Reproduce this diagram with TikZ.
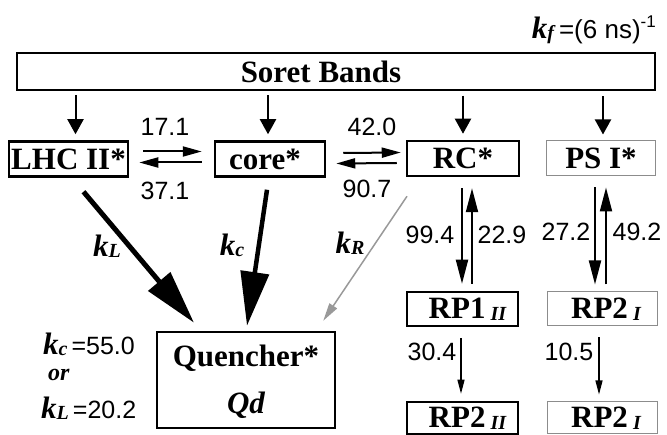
\documentclass[tikz,border=0pt]{standalone}
\usepackage{fontspec}
\setmainfont{Liberation Serif}
\setsansfont{Liberation Sans}
\usetikzlibrary{arrows.meta,calc}
\newcommand\bxfont{\fontsize{31}{33}\selectfont\bfseries}
\newcommand\numfont{\fontsize{25}{27}\selectfont\sffamily}
\newcommand\klab[1]{{\fontsize{31}{33}\selectfont\bfseries\itshape k\raisebox{-1pt}{\fontsize{20}{21}\selectfont #1}}}
\newcommand\subII[1]{\raisebox{-2pt}{\fontsize{20}{21}\selectfont\itshape #1}}
\begin{document}
\begin{tikzpicture}[x=1pt,y=-1pt,
  tbox/.style={draw, line width=2.5pt, inner sep=0pt, font=\bxfont},
  gbox/.style={draw=black!45, line width=1pt, inner sep=0pt, font=\bxfont},
  num/.style={font=\numfont, inner sep=0pt},
  sarr/.style={line width=2pt, -{Triangle[length=15pt,width=16pt]}},
  darr/.style={line width=2pt, -{Triangle[length=19pt,width=10pt]}},
  varr/.style={line width=2pt, -{Triangle[length=24pt,width=12pt]}},
  tarr/.style={line width=1.2pt, -{Triangle[length=14pt,width=7pt]}},
  bigarr/.style={-{Triangle[length=54pt,width=28pt]}},
]
\useasboundingbox (0,0) rectangle (667,435);

% boxes
\node[tbox, minimum width=638pt, minimum height=37pt] (soret) at (336,71.5) {\hspace*{-30pt}Soret Bands};
\node[tbox, minimum width=119pt, minimum height=35pt] (lhc) at (68.5,159) {LHC II*};
\node[tbox, minimum width=110pt, minimum height=35pt] (core) at (270,159) {\hspace*{-10pt}core*};
\node[tbox, minimum width=112pt, minimum height=35pt] (rc) at (463,158.5) {RC*};
\node[gbox, minimum width=109pt, minimum height=35pt] (psi) at (601,158.5) {PS I*};
\node[tbox, minimum width=111pt, minimum height=34pt] (rp1) at (462.5,309) {\hspace{10pt}RP1\,\subII{II}};
\node[gbox, minimum width=110pt, minimum height=34pt] (rp2i) at (602,309) {\hspace{8pt}RP2\,\subII{I}};
\node[tbox, minimum width=111pt, minimum height=32pt] (rp2ii) at (462.5,418) {\hspace{10pt}RP2\,\subII{II}};
\node[gbox, minimum width=110pt, minimum height=32pt] (rp2ib) at (602,418) {\hspace{8pt}RP2\,\subII{I}};
\node[tbox, minimum width=178pt, minimum height=96pt] (q) at (246,380) {};
\node[font=\bxfont, inner sep=0pt] (qt) at (246,358) {Quencher*};
\node[font=\bxfont\itshape, inner sep=0pt] (qd) at (246,405) {Qd};

% kf label
\node[anchor=east, inner sep=0pt] (kf) at (656,30)
  {\klab{f}\hspace{5pt}{\fontsize{26}{28}\selectfont\sffamily =(6 ns)\raisebox{11pt}{\fontsize{17}{18}\selectfont -1}}};

% Soret arrows
\draw[sarr] ($(lhc.north)+(7,-45)$) -- ($(lhc.north)+(7,-6)$);
\draw[sarr] ($(core.north)+(-2,-45)$) -- ($(core.north)+(-2,-6)$);
\draw[sarr] ($(rc.north)+(0,-44)$) -- ($(rc.north)+(0,-6)$);
\draw[sarr] ($(psi.north)+(2,-44)$) -- ($(psi.north)+(2,-6)$);

% double arrows
\draw[darr] ($(lhc.east)+(14,-7.5)$) -- ($(core.west)+(-12,-7.5)$);
\draw[darr] ($(core.west)+(-12,3.5)$) -- ($(lhc.east)+(10,3.5)$);
\draw[darr] ($(core.east)+(17,-6)$) -- ($(rc.west)+(-5,-6)$);
\draw[darr] ($(rc.west)+(-9,4.5)$) -- ($(core.east)+(10,4.5)$);
\node[num] (n171) at (165,127) {17.1};
\node[num] (n371) at (165,191) {37.1};
\node[num] (n420) at (372,127) {42.0};
\node[num] (n907) at (367,189) {90.7};

% to quencher
\draw[bigarr, line width=5pt] ($(lhc.south)+(15,14)$) -- ($(q.north)+(-52,-8)$);
\draw[bigarr, line width=4.5pt] ($(core.south)+(-3,12)$) -- ($(q.north)+(1,-5)$);
\draw[line width=1.5pt, black!40, -{Triangle[length=18pt,width=9pt]}] ($(rc.south)+(-56,19)$) -- ($(q.north east)+(-13,-10)$);
\node[inner sep=0pt] (kL) at (107,246) {\klab{L}};
\node[inner sep=0pt] (kc) at (232,245) {\klab{c}};
\node[inner sep=0pt] (kR) at (350,243) {\klab{R}};

% RC <-> RP1
\draw[varr] ($(rc.south)+(-1,11)$) -- ($(rp1.north)+(-0.5,-7)$);
\draw[varr] ($(rp1.north)+(9.5,-7)$) -- ($(rc.south)+(9,11)$);
\node[num] (n994) at (430,235) {99.4};
\node[num] (n229) at (502,235) {22.9};
% PSI <-> RP2
\draw[varr] ($(psi.south)+(-6,11)$) -- ($(rp2i.north)+(-7,-7)$);
\draw[varr] ($(rp2i.north)+(4,-7)$) -- ($(psi.south)+(5,11)$);
\node[num] (n272) at (566,232) {27.2};
\node[num] (n492) at (637,232) {49.2};

% thin arrows
\draw[tarr] ($(rp1.south)+(-1.5,11)$) -- ($(rp2ii.north)+(-1.5,-7)$);
\draw[tarr] ($(rp2i.south)+(-3,11)$) -- ($(rp2ib.north)+(-3,-7)$);
\node[num] (n304) at (432,352) {30.4};
\node[num] (n105) at (569,352) {10.5};

% left labels
\node[anchor=west, inner sep=0pt] (lab1) at (43,344) {\klab{c}\hspace{4pt}{\numfont =55.0}};
\node[anchor=west, inner sep=0pt] (lab2) at (48,375) {\fontsize{24}{26}\selectfont\bfseries\itshape or};
\node[anchor=west, inner sep=0pt] (lab3) at (41,408) {\klab{L}\hspace{4pt}{\numfont =20.2}};
\end{tikzpicture}
\end{document}
